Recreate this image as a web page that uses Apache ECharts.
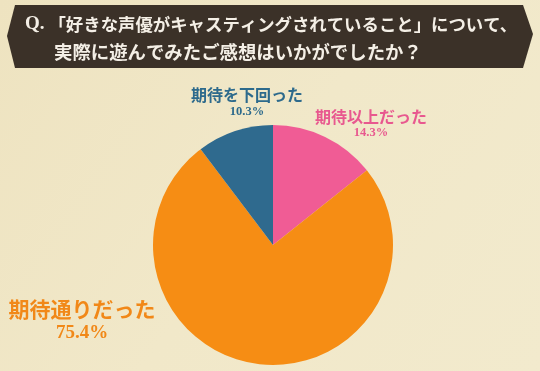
<!DOCTYPE html>
<html>
<head>
<meta charset="utf-8">
<script src="https://cdn.jsdelivr.net/npm/echarts@6/dist/echarts.min.js"></script>
<style>
html,body{margin:0;padding:0;background:#f0e6c5;}
#c{width:540px;height:371px;}
</style>
</head>
<body>
<div id="c"></div>
<script>
const titleLine1 = '「好きな声優がキャスティングされていること」について、';
const titleLine2 = '実際に遊んでみたご感想はいかがでしたか？';
const categories = ['期待以上だった', '期待通りだった', '期待を下回った'];
const values = [14.3, 75.4, 10.3];
const sliceColors = ['#f05c95', '#f68d14', '#2f6a8e'];
const labelColors = ['#e8588f', '#f18818', '#2d6a8c'];

const chart = echarts.init(document.getElementById('c'), null, {renderer: 'canvas'});

const JP = '"Noto Sans CJK JP", "Noto Sans", sans-serif';
const SERIF = '"Liberation Serif", "DejaVu Serif", serif';

// label styles per slice: [nameSize, nameLH, pctSize, pctLH]
const labelSizes = [[16, 17, 12.5, 16], [21, 24, 19, 24], [16, 18, 12.5, 16]];
const labelPos = [
  {x: 371, y: 108},
  {x: 82, y: 297},
  {x: 247, y: 86}
];

const data = categories.map((name, i) => ({
  name: name,
  value: values[i],
  itemStyle: {color: sliceColors[i]},
  label: {
    rich: {
      n: {fontFamily: JP, fontWeight: 'bold', fontSize: labelSizes[i][0], lineHeight: labelSizes[i][1], color: labelColors[i], align: 'center'},
      p: {fontFamily: SERIF, fontWeight: 'bold', fontSize: labelSizes[i][2], lineHeight: labelSizes[i][3], color: labelColors[i], align: 'center'}
    }
  }
}));

chart.setOption({
  backgroundColor: new echarts.graphic.LinearGradient(0, 0, 1, 1, [
    {offset: 0, color: '#eee3c0'},
    {offset: 0.5, color: '#f1e8c9'},
    {offset: 1, color: '#f2eacd'}
  ]),
  animation: false,
  graphic: [
    {
      type: 'polygon',
      shape: {points: [[15, 5], [523, 5], [533, 34], [523, 68], [15, 68], [7, 36]]},
      style: {fill: '#3b3128'},
      z: 1
    },
    {
      type: 'text',
      left: 25, top: 15,
      style: {
        text: '{q|Q.} ' + titleLine1,
        rich: {
          q: {fontFamily: SERIF, fontWeight: 'bold', fontSize: 19, fill: '#f4efe6'}
        },
        fontFamily: JP, fontWeight: 'bold', fontSize: 17.4, fill: '#f4efe6'
      },
      z: 2
    },
    {
      type: 'text',
      left: 54, top: 43,
      style: {
        text: titleLine2,
        fontFamily: JP, fontWeight: 'bold', fontSize: 18.4, fill: '#f4efe6'
      },
      z: 2
    }
  ],
  series: [{
    type: 'pie',
    center: [273, 245],
    radius: [0, 120],
    startAngle: 90,
    clockwise: true,
    label: {
      show: true,
      position: 'outside',
      formatter: p => '{n|' + p.name + '}\n{p|' + p.value.toFixed(1) + '%}'
    },
    labelLine: {show: false},
    labelLayout: function (params) {
      const pos = labelPos[params.dataIndex];
      return {x: pos.x, y: pos.y, align: 'center', verticalAlign: 'top', hideOverlap: false};
    },
    emphasis: {disabled: true},
    data: data
  }]
});
</script>
</body>
</html>
